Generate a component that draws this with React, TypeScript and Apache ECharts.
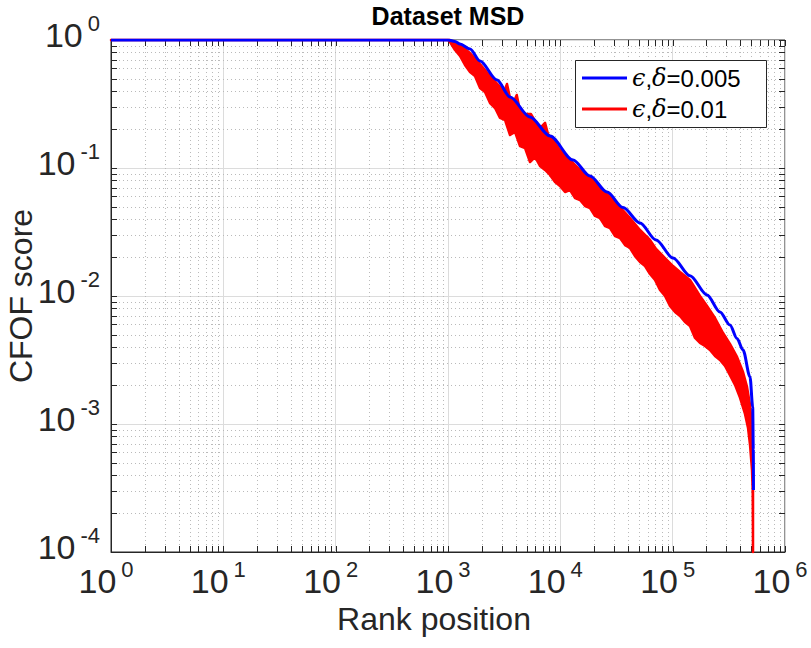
import React, { useEffect, useRef } from "react";
import * as echarts from "echarts";

// ---- Axis ticks (decades) ----
const xDecades = [1, 10, 100, 1000, 10000, 100000, 1000000];
const yDecades = [1e-4, 1e-3, 1e-2, 1e-1, 1];
const minorMultipliers = [2, 3, 4, 5, 6, 7, 8, 9];

// ---- Series names ----
const blueName = "eps0005";
const redName = "eps001";
const blueLabel = "{g|ϵ},{g|δ}=0.005";
const redLabel = "{g|ϵ},{g|δ}=0.01";

// ---- Blue curve: ε,δ = 0.005 ----
const blueCurve: [number, number][] = [
  [1, 1], [1000, 1], [1155, 0.973], [1279, 0.93], [1570, 0.85], [1928, 0.686],
  [2731, 0.487], [3565, 0.359], [5370, 0.25], [8090, 0.178], [12970, 0.1155],
  [18370, 0.0866], [26040, 0.0649], [36140, 0.0491], [51180, 0.0372],
  [71100, 0.0274], [100700, 0.0198], [142600, 0.0144], [202200, 0.0102],
  [263700, 0.0075], [323600, 0.00593], [374100, 0.00465], [423000, 0.00379],
  [488400, 0.00233], [515800, 0.00136], [522000, 0.000626], [524000, 0.000305],
];

// ---- Red curve: ε,δ = 0.01 (noisy band: upper and lower envelope) ----
const redUpper: [number, number][] = [
  [1, 1], [1000, 1], [1042, 1], [1279, 0.914], [1570, 0.791], [1928, 0.649],
  [2366, 0.523], [2904, 0.43], [3152, 0.392], [3352, 0.453], [3565, 0.352],
  [3851, 0.328], [4093, 0.372], [4375, 0.279], [4945, 0.264], [5480, 0.264],
  [5954, 0.233], [6590, 0.205], [7310, 0.225], [7770, 0.1844], [8600, 0.1656],
  [9930, 0.1383], [12190, 0.1155], [14960, 0.0965], [18370, 0.0835],
  [22540, 0.0711], [27670, 0.0593], [33980, 0.0496], [41700, 0.0407],
  [51180, 0.0328], [62830, 0.0274], [71100, 0.0233], [85500, 0.0198],
  [100700, 0.01715], [116200, 0.0154], [142600, 0.01334], [175000, 0.01],
  [202200, 0.00835], [238200, 0.00673], [280800, 0.00514], [323600, 0.00422],
  [374100, 0.00334], [423000, 0.00255], [459000, 0.00195], [488400, 0.00141],
  [508500, 0.00093], [518000, 0.000573], [519000, 0.0003], [519000, 1e-4],
];
const redLower: [number, number][] = [
  [1000, 1], [1042, 0.965], [1155, 0.835], [1279, 0.75], [1416, 0.638],
  [1570, 0.562], [1738, 0.523], [1928, 0.422], [2135, 0.392], [2366, 0.322],
  [2623, 0.294], [2904, 0.246], [3220, 0.237], [3565, 0.181], [3953, 0.191],
  [4375, 0.1486], [4850, 0.1433], [5370, 0.1114], [5954, 0.1219], [6590, 0.1037],
  [7310, 0.0965], [8090, 0.0882], [8970, 0.0778], [9930, 0.0724], [11010, 0.0649],
  [12190, 0.0673], [13520, 0.0583], [14960, 0.0562], [16600, 0.0505],
  [18370, 0.0487], [20360, 0.0422], [22540, 0.0407], [25000, 0.0352],
  [27670, 0.034], [30690, 0.0294], [33980, 0.0284], [37670, 0.025],
  [41700, 0.0237], [46240, 0.0205], [51180, 0.01844], [56750, 0.01715],
  [62830, 0.01486], [69660, 0.01334], [77120, 0.01114], [85500, 0.01],
  [94660, 0.00835], [104950, 0.0075], [116200, 0.00698], [128800, 0.00626],
  [142600, 0.00583], [158100, 0.0047], [175000, 0.0043], [194100, 0.00407],
  [214800, 0.00379], [238200, 0.0034], [263700, 0.00316], [292400, 0.00284],
  [323600, 0.00241], [358800, 0.00202], [397900, 0.0016], [440500, 0.0012],
  [468800, 0.00093], [488400, 0.000685], [508500, 0.000437], [516000, 0.0003],
  [519000, 1e-4],
];

const FONT = "'Liberation Sans', Arial, Helvetica, sans-serif";
const TEXT = "#262626";

export default function App() {
  const ref = useRef<HTMLDivElement>(null);

  useEffect(() => {
    if (!ref.current) return;
    const chart = echarts.init(ref.current, undefined, { renderer: "svg" });

    const xMinor = xDecades.slice(0, -1).flatMap((d) => minorMultipliers.map((m) => d * m));
    const yMinor = yDecades.slice(0, -1).flatMap((d) => minorMultipliers.map((m) => d * m));
    const gridData = [
      ...xMinor.map((v) => [v, 1, 0, 0]),
      ...xDecades.map((v) => [v, 1, 0, 1]),
      ...yMinor.map((v) => [1, v, 1, 0]),
      ...yDecades.map((v) => [1, v, 1, 1]),
    ];

    const expOf = (val: number) => Math.round(Math.log10(val));
    const xTickLabel = (val: number) => `{b|10}{s|${expOf(val)}}{p| }`;
    const yTickLabel = (val: number) => `{b|10}{s|${expOf(val)}}\n{e| }`;
    const labelRich = {
      b: { fontSize: 34, fontFamily: FONT, color: TEXT, lineHeight: 40, verticalAlign: "bottom" as const },
      s: { fontSize: 22, fontFamily: FONT, color: TEXT, lineHeight: 23, verticalAlign: "top" as const, padding: [0, 0, 0, 5] },
      e: { fontSize: 1, lineHeight: 16 },
      p: { fontSize: 1, width: 10, lineHeight: 10 },
    };

    const option: any = {
      animation: false,
      backgroundColor: "#ffffff",
      grid: {
        left: 111, right: 26, top: 40, bottom: 96,
        show: true, borderColor: TEXT, borderWidth: 1,
        containLabel: false, outerBoundsMode: "none",
      },
      xAxis: {
        type: "log", logBase: 10, min: 1, max: 1e6, splitNumber: 6,
        name: "Rank position", nameLocation: "middle", nameGap: 50,
        nameTextStyle: { fontSize: 32, fontFamily: FONT, color: TEXT, padding: [0, 28, 0, 0] },
        axisLine: { show: true, lineStyle: { color: TEXT, width: 1 } },
        axisTick: { show: false },
        splitLine: { show: true, lineStyle: { color: "#dcdcdc", width: 1 } },
        axisLabel: {
          margin: 6, formatter: xTickLabel, rich: labelRich,
          showMinLabel: true, showMaxLabel: true, hideOverlap: false,
        },
      },
      yAxis: {
        type: "log", logBase: 10, min: 1e-4, max: 1, splitNumber: 4,
        axisLine: { show: true, lineStyle: { color: TEXT, width: 1 } },
        axisTick: { show: false },
        splitLine: { show: true, lineStyle: { color: "#dcdcdc", width: 1 } },
        axisLabel: {
          margin: 11, formatter: yTickLabel, rich: labelRich,
          showMinLabel: true, showMaxLabel: true, hideOverlap: false,
        },
      },
      legend: {
        orient: "vertical", left: 582, top: 65, padding: 0, itemGap: 5,
        itemWidth: 45, itemHeight: 3, selectedMode: false, z: 101,
        data: [
          { name: blueName, icon: "rect" },
          { name: redName, icon: "rect" },
        ],
        formatter: (name: string) => (name === blueName ? blueLabel : redLabel),
        textStyle: {
          fontSize: 24, fontFamily: FONT, color: "#000", lineHeight: 26,
          rich: {
            g: { fontSize: 24, fontFamily: "'DejaVu Serif', serif", fontStyle: "italic", color: "#000", lineHeight: 26 },
          },
        },
      },
      graphic: {
        elements: [
          {
            type: "rect", z: 100, silent: true,
            shape: { x: 575.5, y: 60.5, width: 191, height: 67 },
            style: { fill: "#ffffff", stroke: TEXT, lineWidth: 1 },
          },
          {
            type: "text", x: 448, y: 16, z: 100, silent: true,
            style: {
              text: "Dataset MSD", textAlign: "center", textVerticalAlign: "middle",
              fontSize: 25, fontWeight: "bold", fontFamily: FONT, fill: "#000",
            },
          },
          {
            type: "text", x: 21, y: 296, rotation: Math.PI / 2, z: 100, silent: true,
            style: {
              text: "CFOF score", textAlign: "center", textVerticalAlign: "middle",
              fontSize: 32, fontFamily: FONT, fill: TEXT,
            },
          },
        ],
      },
      series: [
        {
          name: "gridlines", type: "custom", silent: true, z: 1,
          data: gridData, encode: { x: 0, y: 1 },
          renderItem: (params: any, api: any) => {
            const cs = params.coordSys;
            const kind = api.value(2);
            const major = api.value(3);
            const L = 6;
            const dotted = { stroke: "#bababa", lineWidth: 1, lineDash: [1, 3] };
            const tick = { stroke: TEXT, lineWidth: 1 };
            const children: any[] = [];
            if (kind === 0) {
              const x = Math.round(api.coord([api.value(0), 1])[0]) + 0.5;
              const yb = cs.y + cs.height;
              if (!major) children.push({ type: "line", shape: { x1: x, y1: cs.y, x2: x, y2: yb }, style: dotted });
              children.push({ type: "line", shape: { x1: x, y1: yb, x2: x, y2: yb - L }, style: tick });
              children.push({ type: "line", shape: { x1: x, y1: cs.y, x2: x, y2: cs.y + L }, style: tick });
            } else {
              const y = Math.round(api.coord([1, api.value(1)])[1]) + 0.5;
              const xr = cs.x + cs.width;
              if (!major) children.push({ type: "line", shape: { x1: cs.x, y1: y, x2: xr, y2: y }, style: dotted });
              children.push({ type: "line", shape: { x1: cs.x, y1: y, x2: cs.x + L, y2: y }, style: tick });
              children.push({ type: "line", shape: { x1: xr, y1: y, x2: xr - L, y2: y }, style: tick });
            }
            return { type: "group", children };
          },
        },
        {
          name: redName, type: "custom", z: 3, silent: true,
          itemStyle: { color: "#ff0000" },
          data: redUpper, encode: { x: 0, y: 1 },
          renderItem: (params: any, api: any) => {
            if (params.dataIndex !== 0) return null;
            const pts = [
              ...redUpper.map((p) => api.coord(p)),
              ...redLower.slice().reverse().map((p) => api.coord(p)),
            ];
            return {
              type: "polygon",
              shape: { points: pts },
              style: { fill: "#ff0000", stroke: "#ff0000", lineWidth: 2.5, lineJoin: "round" },
            };
          },
        },
        {
          name: blueName, type: "line", z: 4, data: blueCurve,
          showSymbol: false, symbol: "none", color: "#0000ff",
          smooth: 0.3, smoothMonotone: "x",
          lineStyle: { color: "#0000ff", width: 3 },
          itemStyle: { color: "#0000ff" },
        },
      ],
    };

    chart.setOption(option);
    return () => chart.dispose();
  }, []);

  return (
    <div
      ref={ref}
      style={{ position: "absolute", left: 0, top: 0, width: 811, height: 648, background: "#fff" }}
    />
  );
}
